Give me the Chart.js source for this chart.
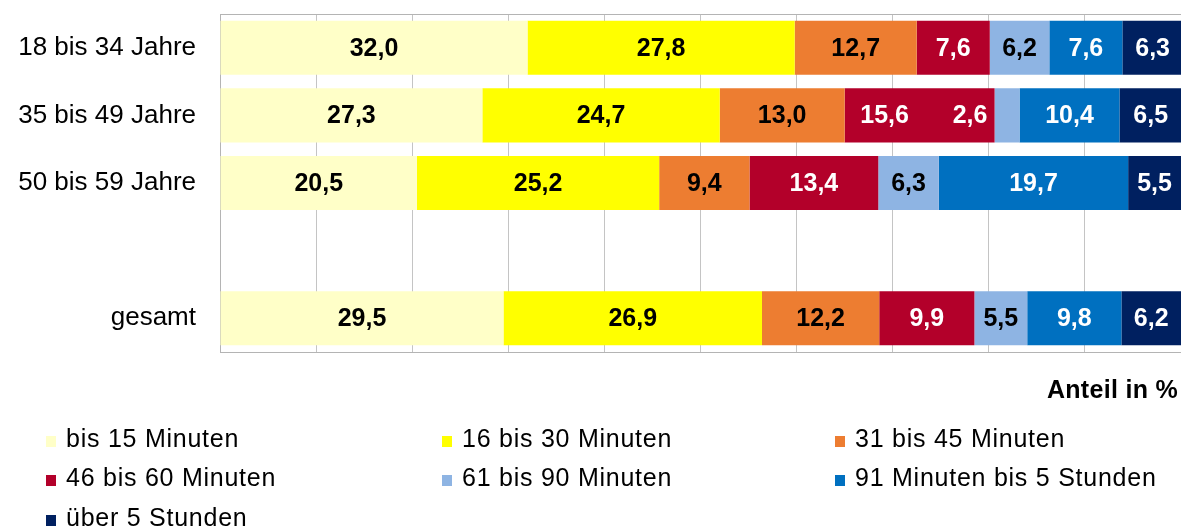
<!DOCTYPE html>
<html>
<head>
<meta charset="utf-8">
<script src="https://cdn.jsdelivr.net/npm/chart.js@4/dist/chart.umd.min.js"></script>
<style>
  html, body { margin: 0; padding: 0; background: #fff; }
  #wrap { position: relative; width: 1181px; height: 528px; overflow: hidden; font-family: "Liberation Sans", Arial, sans-serif; }
  #c { position: absolute; left: 0; top: 0; }
  .axtitle { position: absolute; right: 3px; top: 375px; font-weight: bold; font-size: 25px; line-height: 28px; color: #000; letter-spacing: 0.3px; }
  .leg { position: absolute; font-size: 25px; line-height: 28px; color: #000; white-space: nowrap; letter-spacing: 0.75px; }
  .sw { position: absolute; width: 10px; height: 11px; }
</style>
</head>
<body>
<div id="wrap">
  <canvas id="c" width="1181" height="528"></canvas>
  <div class="axtitle">Anteil in %</div>
  <div id="legend"></div>
</div>
<script>
// ---- data ----
const categories = ['18 bis 34 Jahre', '35 bis 49 Jahre', '50 bis 59 Jahre', '', 'gesamt'];
const seriesNames = ['bis 15 Minuten', '16 bis 30 Minuten', '31 bis 45 Minuten', '46 bis 60 Minuten', '61 bis 90 Minuten', '91 Minuten bis 5 Stunden', 'über 5 Stunden'];
const bis15   = [32.0, 27.3, 20.5, null, 29.5];
const m16_30  = [27.8, 24.7, 25.2, null, 26.9];
const m31_45  = [12.7, 13.0,  9.4, null, 12.2];
const m46_60  = [ 7.6, 15.6, 13.4, null,  9.9];
const m61_90  = [ 6.2,  2.6,  6.3, null,  5.5];
const m91_5h  = [ 7.6, 10.4, 19.7, null,  9.8];
const ueber5h = [ 6.3,  6.5,  5.5, null,  6.2];
const xTicks  = [0, 10, 20, 30, 40, 50, 60, 70, 80, 90, 100];

// ---- styles ----
const seriesColors = ['#FFFFC8', '#FFFF00', '#ED7D31', '#B3002A', '#8EB4E3', '#0070C0', '#002060'];
const labelColors  = ['#000', '#000', '#000', '#fff', '#000', '#fff', '#fff'];
// label style overrides: [datasetIndex, categoryIndex, dx, color]
const labelOverrides = [[3, 1, -35, '#fff'], [4, 1, -37, '#fff']];

const allSeries = [bis15, m16_30, m31_45, m46_60, m61_90, m91_5h, ueber5h];
const FONT = '"Liberation Sans", Arial, sans-serif';

const datasets = allSeries.map((vals, i) => ({
  label: seriesNames[i],
  data: vals,
  backgroundColor: seriesColors[i],
  borderWidth: 0,
  barPercentage: 0.8,
  categoryPercentage: 1.0
}));

const fmt = v => v.toFixed(1).replace('.', ',');

const labelPlugin = {
  id: 'barLabels',
  afterDatasetsDraw(chart) {
    const ctx = chart.ctx;
    ctx.save();
    ctx.font = 'bold 25px ' + FONT;
    ctx.textAlign = 'center';
    ctx.textBaseline = 'middle';
    chart.data.datasets.forEach((ds, di) => {
      const meta = chart.getDatasetMeta(di);
      meta.data.forEach((el, ci) => {
        const v = ds.data[ci];
        if (v === null || v === undefined) return;
        let dx = 0, col = labelColors[di];
        labelOverrides.forEach(o => { if (o[0] === di && o[1] === ci) { dx = o[2]; col = o[3]; } });
        ctx.fillStyle = col;
        ctx.fillText(fmt(v), (el.x + el.base) / 2 + dx, el.y + 1);
      });
    });
    ctx.restore();
  }
};

const borderPlugin = {
  id: 'topBorder',
  afterDraw(chart) {
    const a = chart.chartArea, ctx = chart.ctx;
    ctx.save();
    ctx.strokeStyle = '#B4B4B4';
    ctx.lineWidth = 1;
    ctx.beginPath();
    ctx.moveTo(a.left, a.top + 0.5);
    ctx.lineTo(a.right, a.top + 0.5);
    ctx.stroke();
    ctx.restore();
  }
};

new Chart(document.getElementById('c'), {
  type: 'bar',
  data: { labels: categories, datasets },
  options: {
    indexAxis: 'y',
    responsive: false,
    animation: false,
    layout: { padding: { top: 14, left: 0, right: 0, bottom: 0 } },
    plugins: { legend: { display: false }, tooltip: { enabled: false } },
    scales: {
      x: {
        stacked: true, min: 0, max: 100,
        afterBuildTicks: s => { s.ticks = xTicks.map(v => ({ value: v })); },
        ticks: { display: false },
        grid: { color: '#C4C4C4', drawTicks: false, lineWidth: 1 },
        border: { display: true, color: '#B4B4B4' },
        afterFit: s => { s.height = 176; s.paddingLeft = 0; s.paddingRight = 0; }
      },
      y: {
        stacked: true,
        grid: { display: false, drawTicks: false },
        border: { display: true, color: '#B4B4B4' },
        ticks: { color: '#000', font: { family: FONT, size: 26 }, padding: 24 },
        afterFit: s => { s.width = 220; s.paddingTop = 0; s.paddingBottom = 0; }
      }
    }
  },
  plugins: [labelPlugin, borderPlugin]
});

// ---- HTML legend (3 columns) ----
const legend = document.getElementById('legend');
const colX = [66, 462, 855];
const rowY = [424, 463, 503];
seriesNames.forEach((name, i) => {
  const c = i % 3, r = Math.floor(i / 3);
  const sw = document.createElement('div');
  sw.className = 'sw';
  sw.style.left = (colX[c] - 20) + 'px';
  sw.style.top = (rowY[r] + 12) + 'px';
  sw.style.background = seriesColors[i];
  legend.appendChild(sw);
  const t = document.createElement('div');
  t.className = 'leg';
  t.style.left = colX[c] + 'px';
  t.style.top = rowY[r] + 'px';
  t.textContent = name;
  legend.appendChild(t);
});
</script>
</body>
</html>
